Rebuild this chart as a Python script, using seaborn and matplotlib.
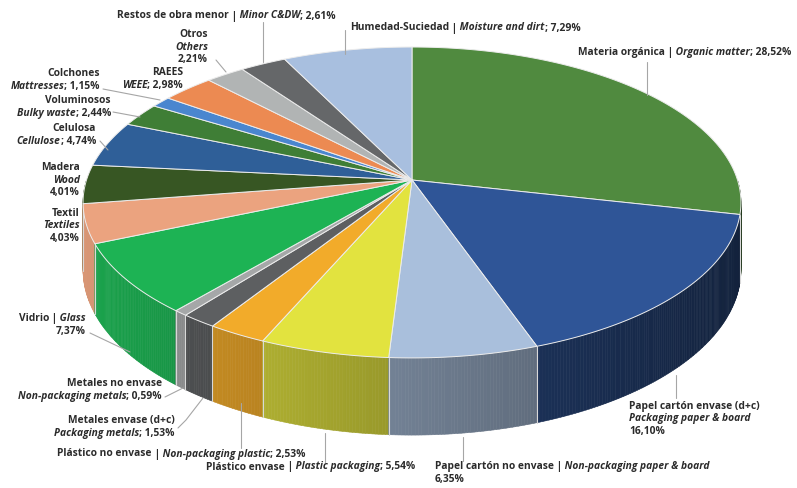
""" Composición de residuos: tarta 3D con etiquetas bilingües """
import numpy as np
import matplotlib
matplotlib.use('Agg')
import matplotlib.pyplot as plt
import seaborn as sns
from matplotlib.collections import PolyCollection
from matplotlib.colors import to_rgb
from matplotlib.font_manager import FontProperties
from matplotlib.offsetbox import TextArea, HPacker, VPacker, AnnotationBbox

# ~~~~~~~  Datos  ~~~~~~~ ~~~~~~~~~ ~~~~~~~~~~~~~ ~~~~~~~ ~ #
nombres_es = ['Materia orgánica', 'Papel cartón envase (d+c)', 'Papel cartón no envase',
              'Plástico envase', 'Plástico no envase', 'Metales envase (d+c)',
              'Metales no envase', 'Vidrio', 'Textil', 'Madera', 'Celulosa',
              'Voluminosos', 'Colchones', 'RAEES', 'Otros', 'Restos de obra menor',
              'Humedad-Suciedad']
nombres_en = ['Organic matter', 'Packaging paper & board', 'Non-packaging paper & board',
              'Plastic packaging', 'Non-packaging plastic', 'Packaging metals',
              'Non-packaging metals', 'Glass', 'Textiles', 'Wood', 'Cellulose',
              'Bulky waste', 'Mattresses', 'WEEE', 'Others', 'Minor C&DW',
              'Moisture and dirt']
valores = [28.52, 16.10, 6.35, 5.54, 2.53, 1.53, 0.59, 7.37, 4.03, 4.01, 4.74,
           2.44, 1.15, 2.98, 2.21, 2.61, 7.29]
colores = ['#508a3f', '#2f5597', '#a9bfdc', '#e2e33f', '#f2ab2a', '#5d5f61',
           '#a5a7a8', '#1db354', '#eba37f', '#375623', '#2f5f98', '#3f7e36',
           '#4a86cf', '#ec8a52', '#b1b4b4', '#656769', '#a8bfdf']
# forma de la etiqueta: una línea, dos, tres, o nombre | name + % debajo
formato = ['una', 'tres', 'una_pct', 'una', 'una', 'dos', 'dos', 'una_pct', 'tres',
           'tres', 'dos', 'dos', 'dos', 'dos', 'tres', 'una', 'una']

# ~~~~~~~  Geometría (píxeles de la imagen)  ~~~~~~~ ~~~~~~~ ~ #
W, H = 797, 488
CX, CY, RX, RY = 412, 180, 325.5, 152.2   # centro y semiejes de la cara superior
PERSP = 0.1446                            # perspectiva: lo de delante se ve mayor
FONDO = 66                                # grosor de la tarta (px)

# posición de cada etiqueta: x, y (centro del bloque), alineación
pos_etiquetas = [(578, 53, 'left'), (629, 419, 'left'), (435, 473, 'left'),
                 (206, 467, 'left'), (57, 454, 'left'), (175, 427, 'right'),
                 (162, 390, 'right'), (86, 325, 'right'), (80, 226, 'right'),
                 (80, 180, 'right'), (96, 135, 'right'), (111, 107, 'right'),
                 (100, 80, 'right'), (183, 79, 'right'), (208, 47, 'right'),
                 (117, 16, 'left'), (350, 28, 'left')]
lineas_guia = [[(647, 62), (647, 95)], [(676, 375), (676, 398)], [(463, 437), (463, 461)],
               [(325, 433), (325, 462)], [(241, 403), (241, 448)],
               [(178, 428), (186, 420), (203, 398)], [(165, 397), (183, 388)],
               [(90, 333), (130, 352)], None, None, [(100, 141), (108, 150)],
               [(113, 112), (140, 117)], [(103, 89), (160, 100)], None,
               [(216, 60), (226, 72)], [(263, 22), (263, 62)], [(345, 30), (345, 54)]]


def borde(t, caida=0.0):
    """ punto del borde para el ángulo t (rad), con perspectiva """
    f = 1 / (1 + PERSP * np.sin(t))
    return CX + RX * np.cos(t) * f, CY - RY * np.sin(t) * f + caida * f


def lineas(es, en, pct, tipo):
    if tipo == 'una':
        return [[(es, False), (' |', False), (' ' + en, True), ('; ' + pct, False)]]
    if tipo == 'una_pct':
        return [[(es, False), (' |', False), (' ' + en, True)], [(pct, False)]]
    if tipo == 'dos':
        return [[(es, False)], [(en, True), ('; ' + pct, False)]]
    return [[(es, False)], [(en, True)], [(pct, False)]]


# ~~~~~~~~  Figura  ~~~~~~~ ~~~~ ~~~~~~~ ~~~~~~~~~~~~~ ~ #
sns.set_theme(style='white')
plt.rcParams['font.family'] = ['Open Sans', 'DejaVu Sans']
fig = plt.figure(figsize=(W / 100, H / 100), dpi=100)
ax = fig.add_axes([0, 0, 1, 1])

frac = np.concatenate([[0], np.cumsum(valores)]) / sum(valores)
ang = np.deg2rad(90 - 360 * frac)   # en sentido horario desde las 12

# pared lateral (mitad delantera), sombreada de izquierda a derecha
quads = []
for i, color in enumerate(colores):
    lo, hi = max(ang[i + 1], -np.pi), min(ang[i], 0)
    if lo >= hi:
        continue
    ts = np.linspace(lo, hi, int(np.rad2deg(hi - lo) / 0.5) + 2)
    for a0, a1 in zip(ts[:-1], ts[1:]):
        verts = [borde(a0), borde(a1), borde(a1, FONDO), borde(a0, FONDO)]
        sombra = 0.66 - 0.27 * np.cos((a0 + a1) / 2)
        quads.append((np.sin((a0 + a1) / 2), verts,
                      np.clip(np.array(to_rgb(color)) * sombra, 0, 1)))
quads.sort(key=lambda q: -q[0])   # de atrás hacia delante
cols = [q[2] for q in quads]
ax.add_collection(PolyCollection([q[1] for q in quads], facecolors=cols,
                                 edgecolors=cols, linewidths=0.4, zorder=1))
for a in ang:
    if -np.pi < a < 0:
        (x0, y0), (x1, y1) = borde(a), borde(a, FONDO)
        ax.plot([x0, x1], [y0, y1], color='#d8d8d8', lw=0.8, zorder=1.5)

# cara superior: una porción por categoría
caras = []
for i in range(len(valores)):
    ts = np.linspace(ang[i], ang[i + 1], max(int(np.rad2deg(ang[i] - ang[i + 1])), 2) + 1)
    caras.append([(CX, CY)] + [borde(t) for t in ts])
ax.add_collection(PolyCollection(caras, facecolors=colores, edgecolors='#ececec',
                                 linewidths=0.7, zorder=2))

# líneas guía
for guia in lineas_guia:
    if guia:
        xs, ys = zip(*guia)
        ax.plot(xs, ys, color='#a6a6a6', lw=0.8, zorder=4)

# etiquetas
for es, en, v, tipo, (x, y, ha) in zip(nombres_es, nombres_en, valores, formato,
                                        pos_etiquetas):
    pct = f'{v:.2f}'.replace('.', ',') + '%'
    filas = []
    for fila in lineas(es, en, pct, tipo):
        partes = []
        for s, it in fila:
            fp = FontProperties(family=['Open Sans', 'DejaVu Sans'], weight='bold',
                                style='italic' if it else 'normal', size=7.4)
            partes.append(TextArea(s, textprops=dict(fontproperties=fp, color='#2b2b2b')))
        filas.append(HPacker(children=partes, pad=0, sep=0, align='baseline'))
    caja = VPacker(children=filas, pad=0, sep=1.0, align=ha)
    ab = AnnotationBbox(caja, (x, y), xycoords='data',
                        box_alignment=(0 if ha == 'left' else 1, 0.5),
                        frameon=False, pad=0, zorder=5)
    ax.add_artist(ab)

ax.set_xlim(0, W)
ax.set_ylim(H, 0)
ax.axis('off')

fig.savefig('out.png', dpi=100, facecolor='white')
